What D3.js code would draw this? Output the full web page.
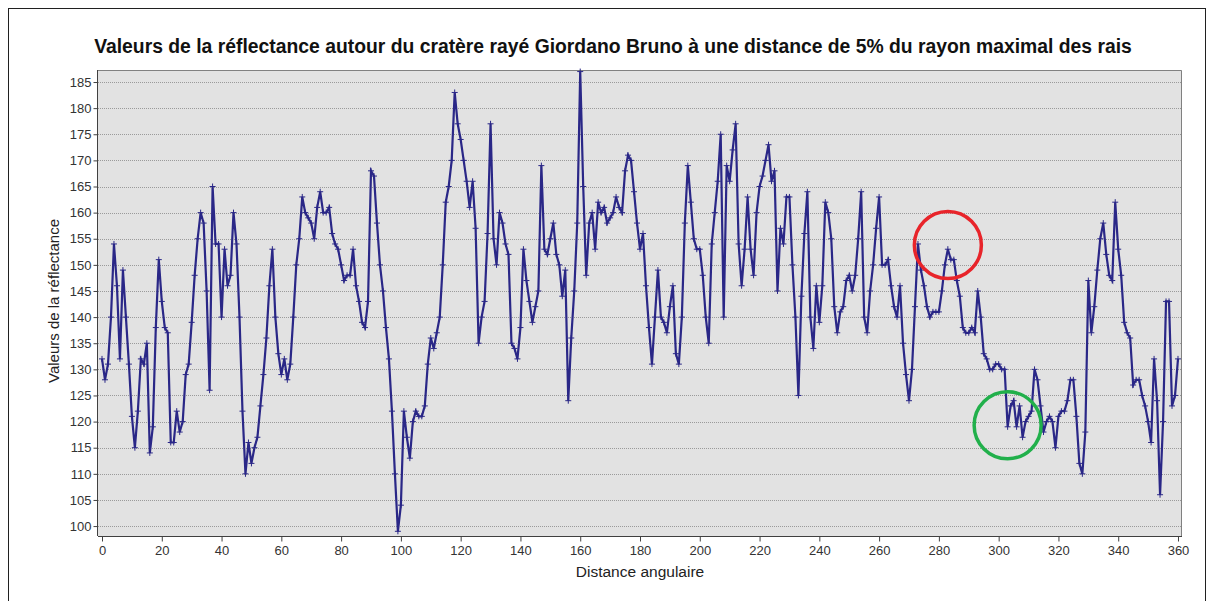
<!DOCTYPE html>
<html>
<head>
<meta charset="utf-8">
<script src="https://cdn.jsdelivr.net/npm/d3@7"></script>
<style>
  html, body { margin: 0; padding: 0; background: #ffffff; }
  svg { display: block; font-family: "Liberation Sans", Arial, sans-serif; }
</style>
</head>
<body>
<svg id="chart" width="1214" height="601"></svg>
<script>
// Reflectance samples, one per degree from 0 to 360
const reflectance = [
  132,128,131,140,154,146,132,149,140,131,121,115,122,132,131,135,114,119,138,151,
  143,138,137,116,116,122,118,120,129,131,139,148,155,160,158,145,126,165,154,154,
  140,153,146,148,160,154,140,122,110,116,112,115,117,123,129,136,146,153,140,133,
  129,132,128,131,140,150,155,163,160,159,158,155,161,164,160,160,161,156,154,153,
  150,147,148,148,153,146,143,139,138,143,168,167,158,150,145,138,132,122,110,99,
  104,122,117,113,120,122,121,121,123,131,136,134,137,140,150,162,165,170,183,177,
  174,170,166,161,166,157,135,140,143,156,177,155,150,160,158,154,152,135,134,132,
  138,153,147,143,139,142,145,169,153,152,155,158,152,150,144,149,124,136,145,158,
  187,165,148,158,160,153,162,160,161,158,159,160,163,161,160,168,171,170,164,158,
  153,156,146,138,131,140,149,140,139,137,142,146,133,131,140,158,169,162,155,153,
  153,148,140,135,154,160,166,175,140,169,166,172,177,154,146,153,163,153,148,160,
  165,167,170,173,166,168,145,157,154,163,163,150,140,125,144,156,164,140,134,146,
  139,146,162,160,155,142,137,141,142,147,148,145,148,155,164,140,137,145,150,157,
  163,150,150,151,146,142,140,146,135,129,124,130,142,154,149,146,142,140,141,141,
  141,145,150,153,151,151,147,144,138,137,137,138,137,145,140,133,132,130,130,131,
  131,130,130,119,123,124,119,123,117,120,121,122,130,128,123,118,120,121,120,115,
  121,122,122,124,128,128,121,112,110,118,147,137,142,149,155,158,152,148,147,162,
  153,148,139,137,136,127,128,128,125,123,120,116,132,124,106,120,143,143,123,125,
  132
];

const xTicks = [0, 20, 40, 60, 80, 100, 120, 140, 160, 180, 200, 220, 240, 260, 280, 300, 320, 340, 360];
const yTicks = [100, 105, 110, 115, 120, 125, 130, 135, 140, 145, 150, 155, 160, 165, 170, 175, 180, 185];
const xDomain = [-1.34, 361.34];
const yDomain = [98.1, 187.3];

const titleText = "Valeurs de la réflectance autour du cratère rayé Giordano Bruno à une distance de 5% du rayon maximal des rais";
const xLabel = "Distance angulaire";
const yLabel = "Valeurs de la réflectance";

// Highlight rings: [angle, value, colour]
const rings = [
  [283.0, 153.8, "#e8242a"],
  [303.0, 119.3, "#21b04b"]
];

const svg = d3.select("#chart");
const plot = { left: 98, right: 1182, top: 70, bottom: 536 };

const x = d3.scaleLinear().domain(xDomain).range([plot.left, plot.right]);
const y = d3.scaleLinear().domain(yDomain).range([plot.bottom, plot.top]);

// outer frame
svg.append("rect")
  .attr("x", 8.5).attr("y", 8.5)
  .attr("width", 1197).attr("height", 640)
  .attr("fill", "#ffffff").attr("stroke", "#202020").attr("stroke-width", 1);

// plot background
svg.append("rect")
  .attr("x", plot.left).attr("y", plot.top)
  .attr("width", plot.right - plot.left).attr("height", plot.bottom - plot.top)
  .attr("fill", "#e2e2e2");

// horizontal dotted gridlines
svg.append("g").selectAll("line").data(yTicks).join("line")
  .attr("x1", plot.left).attr("x2", plot.right)
  .attr("y1", d => Math.round(y(d)) + 0.5).attr("y2", d => Math.round(y(d)) + 0.5)
  .attr("stroke", "#9a9a9a").attr("stroke-width", 1)
  .attr("stroke-dasharray", "1,1");

// plot border (top / right)
svg.append("path")
  .attr("d", `M${plot.left},${plot.top + 0.5}H${plot.right - 0.5}V${plot.bottom}`)
  .attr("fill", "none").attr("stroke", "#808080").attr("stroke-width", 1);

// axes
const yAxis = d3.axisLeft(y).tickValues(yTicks).tickSize(4).tickPadding(2);
const xAxis = d3.axisBottom(x).tickValues(xTicks).tickSize(5).tickPadding(4);

const gy = svg.append("g").attr("transform", `translate(${plot.left - 0.5},0)`).call(yAxis);
const gx = svg.append("g").attr("transform", `translate(0,${plot.bottom + 0.5})`).call(xAxis);

[gx, gy].forEach(g => {
  g.select(".domain").attr("stroke", "#404040");
  g.selectAll(".tick line").attr("stroke", "#404040");
  g.selectAll(".tick text")
    .attr("fill", "#333333")
    .style("font-family", '"Liberation Sans", Arial, sans-serif')
    .style("font-size", "13px");
});
gy.select(".domain").attr("d", `M0,${plot.top}V${plot.bottom}`);
gx.select(".domain").attr("d", `M${plot.left},0H${plot.right}`);

// data line
const line = d3.line()
  .x((d, i) => x(i))
  .y(d => y(d));

svg.append("path")
  .datum(reflectance)
  .attr("d", line)
  .attr("fill", "none")
  .attr("stroke", "#2a2787")
  .attr("stroke-width", 2.2)
  .attr("stroke-linejoin", "miter");

// small cross markers at each sample
const marker = 3;
svg.append("g").selectAll("path").data(reflectance).join("path")
  .attr("d", (d, i) => {
    const cx = x(i), cy = y(d);
    return `M${cx - marker},${cy}H${cx + marker}M${cx},${cy - marker}V${cy + marker}`;
  })
  .attr("stroke", "#2a2787").attr("stroke-width", 1);

// highlight rings
svg.append("g").selectAll("circle").data(rings).join("circle")
  .attr("cx", d => x(d[0])).attr("cy", d => y(d[1]))
  .attr("r", 33.5)
  .attr("fill", "none")
  .attr("stroke", d => d[2])
  .attr("stroke-width", 3.5);

// title
const title = svg.append("text")
  .attr("x", (plot.left + plot.right) / 2 - 27).attr("y", 53)
  .attr("text-anchor", "middle")
  .style("font-size", "15px").style("font-weight", "bold")
  .attr("fill", "#111111")
  .text(titleText);
// fit title to its intended width
const tw = title.node().getComputedTextLength();
title.style("font-size", (15 * 1038 / tw).toFixed(2) + "px");

// axis labels
svg.append("text")
  .attr("x", 640).attr("y", 577)
  .attr("text-anchor", "middle")
  .style("font-size", "15.5px")
  .attr("fill", "#222222")
  .text(xLabel);

svg.append("text")
  .attr("transform", `translate(59,${(plot.top + plot.bottom) / 2 - 2}) rotate(-90)`)
  .attr("text-anchor", "middle")
  .style("font-size", "15px")
  .attr("fill", "#222222")
  .text(yLabel);
</script>
</body>
</html>
